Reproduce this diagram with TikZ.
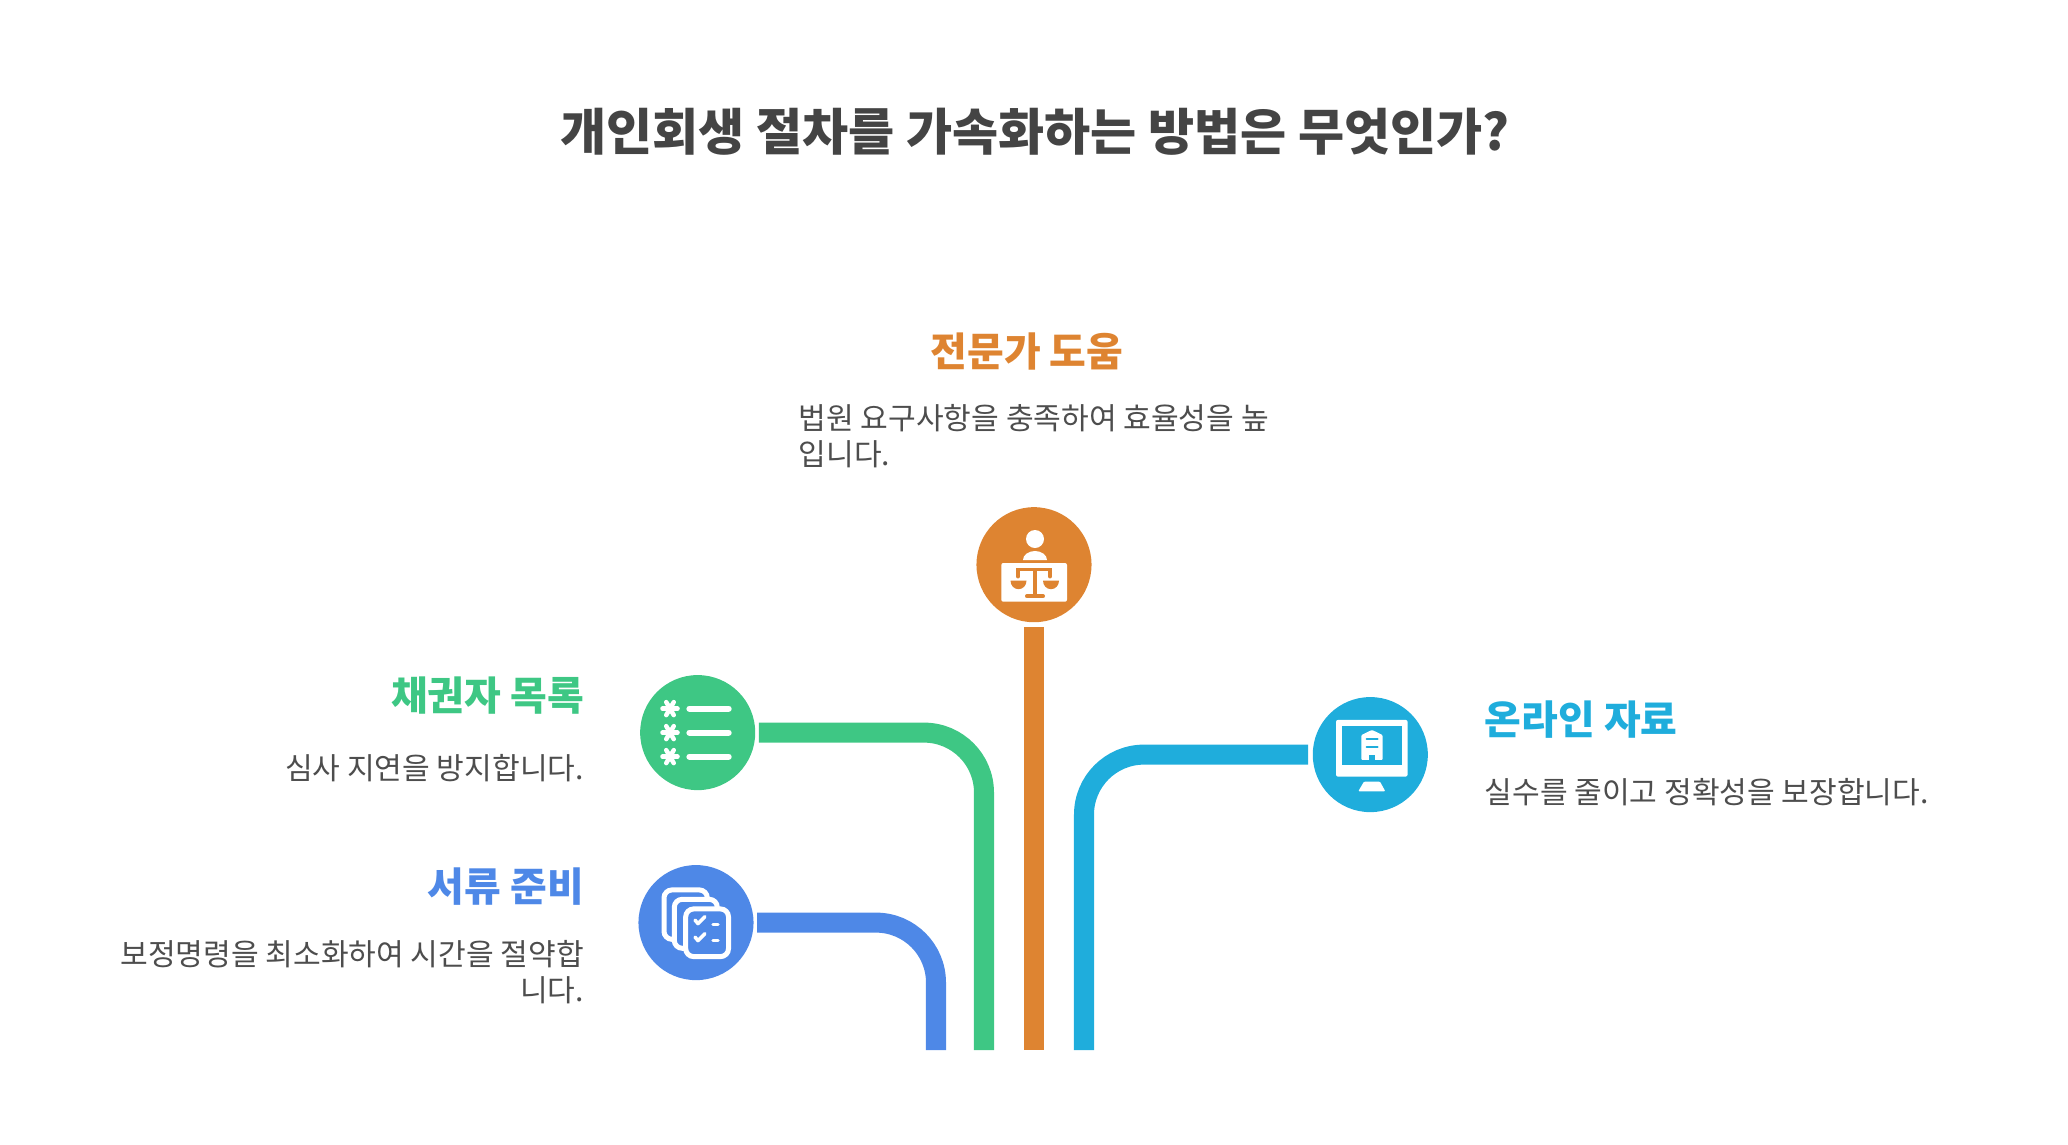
\documentclass[tikz,border=0pt]{standalone}
\usepackage{fontspec}
\setmainfont{Noto Sans CJK KR}
\usetikzlibrary{arrows.meta}
\definecolor{judgecol}{HTML}{DE8431}
\definecolor{listcol}{HTML}{3EC784}
\definecolor{docscol}{HTML}{4E88E7}
\definecolor{webcol}{HTML}{1FADDC}
\definecolor{inkcol}{HTML}{444444}
\definecolor{softcol}{HTML}{4D4D4D}
\tikzset{
  badge/.style={circle, minimum size=1.15cm, inner sep=0pt, fill=#1},
  headline/.style={font=\fontsize{11.35pt}{13pt}\selectfont\bfseries, text=#1},
  bodytext/.style={font=\fontsize{8.56pt}{10.2pt}\selectfont, text=softcol, inner sep=0pt},
  track/.style={draw=#1, line width=0.2cm, rounded corners=0.6cm}
}
\begin{document}
\begin{tikzpicture}[x=0.01cm, y=-0.01cm]
      \useasboundingbox (0, 0) rectangle (2068, 1145);
      \node[font=\fontsize{14.26pt}{17pt}\selectfont\bfseries, text=inkcol] (title) at (1035, 132) {개인회생 절차를 가속화하는 방법은 무엇인가?};
      % circles
      \node[badge=judgecol] (judge) at (1034, 564.7) {};
      \node[badge=listcol] (list) at (697.7, 732.6) {};
      \node[badge=docscol] (docs) at (696, 922.6) {};
      \node[badge=webcol] (web) at (1370.3, 754.6) {};
      % lower ends
      \coordinate (judgeend) at (1034, 1050);
      \coordinate (listend) at (984, 1050);
      \coordinate (docsend) at (936, 1050);
      \coordinate (webend) at (1084, 1050);
      \draw[track=judgecol, shorten <=0.04cm] (judge.south) -- (judgeend);
      \draw[track=listcol, shorten <=0.03cm] (list.east) -| (listend);
      \draw[track=docscol, shorten <=0.03cm] (docs.east) -| (docsend);
      \draw[track=webcol, shorten <=0.04cm] (web.west) -| (webend);
      % texts
      \node[headline=judgecol] (judgehead) at (1027, 351.5) {전문가 도움};
      \node[bodytext, anchor=west] (judgeone) at (798, 418) {법원 요구사항을 충족하여 효율성을 높};
      \node[bodytext, anchor=west] (judgetwo) at (798, 454) {입니다.};
      \node[headline=listcol, anchor=east, inner sep=0pt] (listhead) at (584.5, 696) {채권자 목록};
      \node[bodytext, anchor=east] (listone) at (584.5, 768) {심사 지연을 방지합니다.};
      \node[headline=docscol, anchor=east, inner sep=0pt] (docshead) at (584.5, 887) {서류 준비};
      \node[bodytext, anchor=east] (docsone) at (584.5, 954) {보정명령을 최소화하여 시간을 절약합};
      \node[bodytext, anchor=east] (docstwo) at (584.5, 990) {니다.};
      \node[headline=webcol, anchor=west, inner sep=0pt] (webhead) at (1484, 720) {온라인 자료};
      \node[bodytext, anchor=west] (webone) at (1484, 792) {실수를 줄이고 정확성을 보장합니다.};
      % judge icon
      \begin{scope}[shift={(judge)}]
        \fill[white] (1, -25.7) circle (9);
        \fill[white] (-11, -4.7) arc[start angle=180, end angle=360, x radius=12, y radius=9] -- cycle;
        \fill[white, rounded corners=0.02cm] (-32.7, -1.7) rectangle (33, 37);
        \draw[judgecol, line width=0.035cm, line cap=round] (-16, 12) -- (-16, 5) -- (16, 5) -- (16, 12);
        \draw[judgecol, line width=0.04cm] (1, 4) -- (1, 31);
        \draw[judgecol, line width=0.04cm, line cap=round] (-7, 31.5) -- (9, 31.5);
        \fill[judgecol] (-23.5, 16) arc[start angle=180, end angle=0, x radius=8, y radius=8.5] -- cycle;
        \fill[judgecol] (9, 16) arc[start angle=180, end angle=0, x radius=8, y radius=8.5] -- cycle;
      \end{scope}
      % list icon
      \begin{scope}[shift={(list)}]
        \foreach \yy in {-24, 0, 24} {
          \draw[white, line width=0.06cm, line cap=round] (-8.3, \yy) -- (31, \yy);
          \foreach \aa in {0, 60, 120}
            \draw[white, line width=0.045cm, line cap=round] ({-27.7+7.5*cos(\aa)}, {\yy+7.5*sin(\aa)}) -- ({-27.7-7.5*cos(\aa)}, {\yy-7.5*sin(\aa)});
        }
      \end{scope}
      % docs icon
      \begin{scope}[shift={(docs)}]
        \draw[white, line width=0.05cm, rounded corners=0.08cm] (-32, -32.7) rectangle (11.3, 16.7);
        \draw[white, fill=docscol, line width=0.05cm, rounded corners=0.08cm] (-21.7, -23.3) rectangle (21.3, 25.7);
        \draw[white, fill=docscol, line width=0.05cm, rounded corners=0.08cm] (-10.3, -13.7) rectangle (32.5, 34);
        \draw[white, line width=0.035cm, line cap=round, line join=round] (-1, -2.5) -- (2, 1) -- (9, -6);
        \draw[white, line width=0.035cm, line cap=round, line join=round] (-1, 14.5) -- (2, 18) -- (9, 11);
        \draw[white, line width=0.035cm, line cap=round] (17, 2) -- (22, 2);
        \draw[white, line width=0.035cm, line cap=round] (17, 18) -- (22, 18);
      \end{scope}
      % web icon
      \begin{scope}[shift={(web)}]
        \fill[white, rounded corners=0.02cm] (-34.3, -34.7) rectangle (37.3, 22);
        \fill[webcol] (-28.7, -28.7) rectangle (31.7, 10.3);
        \fill[white, rounded corners=0.01cm] (-12, 36.7) -- (-6.3, 27) -- (9.7, 27) -- (15, 36.7) -- cycle;
        \fill[white, rounded corners=0.01cm] (-9, 5.3) -- (-9, -19.5) -- (1.7, -24.7) -- (12.3, -19.5) -- (12.3, 5.3) -- cycle;
        \draw[webcol, line width=0.02cm, line cap=round] (-3.7, -15.3) -- (7.3, -15.3);
        \draw[webcol, line width=0.02cm, line cap=round] (-3.7, -8) -- (7.3, -8);
        \fill[webcol] (-1.3, 5.3) -- (-1.3, 0) -- (4.7, 0) -- (4.7, 5.3) -- cycle;
      \end{scope}
\end{tikzpicture}
\end{document}
